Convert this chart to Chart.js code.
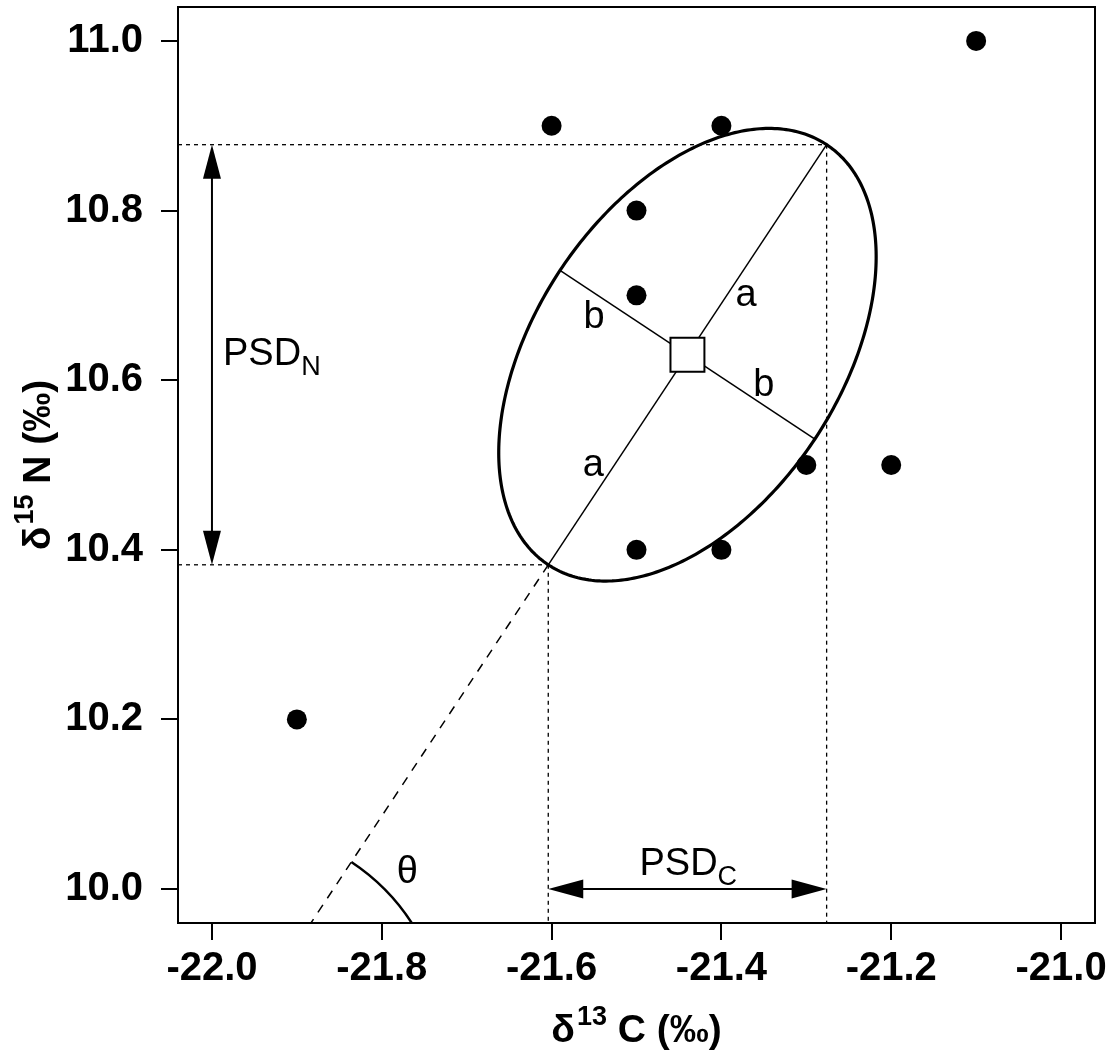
<!DOCTYPE html>
<html><head><meta charset="utf-8">
<script src="https://cdn.jsdelivr.net/npm/chart.js@4/dist/chart.umd.min.js"></script>
<style>html,body{margin:0;padding:0;background:#fff}canvas{display:block}</style>
</head><body>
<canvas id="c" width="1115" height="1053"></canvas>
<script>
// ---- data ----
const X_TICKS = [-22.0, -21.8, -21.6, -21.4, -21.2, -21.0];
const Y_TICKS = [10.0, 10.2, 10.4, 10.6, 10.8, 11.0];
const X_RANGE = [-22.04, -20.96];
const Y_RANGE = [9.96, 11.04];
const C13 = [-21.9, -21.6, -21.4, -21.1, -21.5, -21.5, -21.3, -21.2, -21.5, -21.4];
const N15 = [10.2, 10.9, 10.9, 11.0, 10.8, 10.7, 10.5, 10.5, 10.4, 10.4];
const CENTROID = [-21.44, 10.63];
const SEMI_A = 0.297;
const SEMI_B = 0.180;
const THETA_DEG = 56.5;
const ARC_CENTER_Y = 9.825;
const ARC_RADIUS = 0.248;
const PSD_N_X = -22.0;
const PSD_C_Y = 10.0;
const LABELS_A = [[-21.371, 10.687], [-21.551, 10.487]];
const LABELS_B = [[-21.550, 10.662], [-21.350, 10.581]];
const LABEL_THETA = [-21.770, 10.0074];
const LABEL_PSDN = [-21.987, 10.618];
const LABEL_PSDC = [-21.439, 10.017];

const FAM = "'Liberation Sans', Arial, Helvetica, sans-serif";

function seg(ctx, x1, y1, x2, y2) {
  ctx.beginPath(); ctx.moveTo(x1, y1); ctx.lineTo(x2, y2); ctx.stroke();
}
function head(ctx, tx, ty, dx, dy, len, half) {
  const L = Math.hypot(dx, dy); dx /= L; dy /= L;
  const bx = tx - dx * len, by = ty - dy * len;
  ctx.beginPath();
  ctx.moveTo(tx, ty);
  ctx.lineTo(bx - dy * half, by + dx * half);
  ctx.lineTo(bx + dy * half, by - dx * half);
  ctx.closePath(); ctx.fill();
}
function subText(ctx, main, sub, x, y, align, mainFont, subFont, dy) {
  ctx.font = mainFont; const w1 = ctx.measureText(main).width;
  ctx.font = subFont; const w2 = ctx.measureText(sub).width;
  let sx = x;
  if (align === 'center') sx = x - (w1 + w2) / 2;
  ctx.textAlign = 'left'; ctx.textBaseline = 'alphabetic';
  ctx.font = mainFont; ctx.fillText(main, sx, y);
  ctx.font = subFont; ctx.fillText(sub, sx + w1, y + dy);
}
function supTitle(ctx, a, sup, b, cx, y, mainFont, supFont, dy) {
  ctx.font = mainFont; const w1 = ctx.measureText(a).width;
  ctx.font = supFont; const w2 = ctx.measureText(sup).width;
  ctx.font = mainFont; const w3 = ctx.measureText(b).width;
  let sx = cx - (w1 + w2 + w3 + 2) / 2;
  ctx.textAlign = 'left'; ctx.textBaseline = 'alphabetic';
  ctx.font = mainFont; ctx.fillText(a, sx, y);
  ctx.font = supFont; ctx.fillText(sup, sx + w1 + 2, y - dy);
  ctx.font = mainFont; ctx.fillText(b, sx + w1 + w2 + 2, y);
}

const annot = {
  id: 'annot',
  beforeDatasetsDraw(chart) {
    const { ctx, chartArea: ca, scales: { x, y } } = chart;
    const px = v => x.getPixelForValue(v), py = v => y.getPixelForValue(v);
    const th = THETA_DEG * Math.PI / 180, ct = Math.cos(th), st = Math.sin(th);
    const [cx, cy] = CENTROID;
    const hiX = cx + SEMI_A * ct, hiY = cy + SEMI_A * st;
    const loX = cx - SEMI_A * ct, loY = cy - SEMI_A * st;
    const b1X = cx - SEMI_B * st, b1Y = cy + SEMI_B * ct;
    const b2X = cx + SEMI_B * st, b2Y = cy - SEMI_B * ct;
    ctx.save();
    ctx.beginPath(); ctx.rect(ca.left, ca.top, ca.right - ca.left, ca.bottom - ca.top); ctx.clip();
    ctx.strokeStyle = '#000'; ctx.fillStyle = '#000'; ctx.lineCap = 'butt';
    // dotted guides
    ctx.setLineDash([4, 4]); ctx.lineWidth = 1.3;
    seg(ctx, ca.left, py(hiY), px(hiX), py(hiY));
    seg(ctx, ca.left, py(loY), px(loX), py(loY));
    seg(ctx, px(loX), py(loY), px(loX), ca.bottom);
    seg(ctx, px(hiX), py(hiY), px(hiX), ca.bottom);
    // dashed extension of major axis
    const s = (loY - ARC_CENTER_Y) / st; const acx = loX - s * ct;
    ctx.setLineDash([9, 8]); ctx.lineWidth = 1.5;
    seg(ctx, px(loX), py(loY), px(acx), py(ARC_CENTER_Y));
    ctx.setLineDash([]);
    // theta arc
    const r = px(acx + ARC_RADIUS) - px(acx);
    const ang = Math.atan2(py(loY) - py(ARC_CENTER_Y), px(loX) - px(acx));
    ctx.lineWidth = 2.5;
    ctx.beginPath(); ctx.arc(px(acx), py(ARC_CENTER_Y), r, ang, 0); ctx.stroke();
    // ellipse
    ctx.lineWidth = 3.2;
    ctx.beginPath();
    for (let i = 0; i <= 360; i++) {
      const t = i * Math.PI / 180;
      const ex = cx + SEMI_A * Math.cos(t) * ct - SEMI_B * Math.sin(t) * st;
      const ey = cy + SEMI_A * Math.cos(t) * st + SEMI_B * Math.sin(t) * ct;
      if (i === 0) ctx.moveTo(px(ex), py(ey)); else ctx.lineTo(px(ex), py(ey));
    }
    ctx.closePath(); ctx.stroke();
    // axes a, b
    ctx.lineWidth = 1.5;
    seg(ctx, px(loX), py(loY), px(hiX), py(hiY));
    seg(ctx, px(b1X), py(b1Y), px(b2X), py(b2Y));
    // PSD arrows
    ctx.lineWidth = 2;
    const nx = px(PSD_N_X), ny1 = py(loY), ny2 = py(hiY);
    seg(ctx, nx, ny1 - 20, nx, ny2 + 20);
    head(ctx, nx, ny1, 0, 1, 34, 9);
    head(ctx, nx, ny2, 0, -1, 34, 9);
    const cyp = py(PSD_C_Y), cx1 = px(loX), cx2 = px(hiX);
    seg(ctx, cx1 + 20, cyp, cx2 - 20, cyp);
    head(ctx, cx1, cyp, -1, 0, 35, 9.5);
    head(ctx, cx2, cyp, 1, 0, 35, 9.5);
    // labels
    const reg = '38px ' + FAM, sm = '27px ' + FAM;
    ctx.textAlign = 'center'; ctx.textBaseline = 'alphabetic'; ctx.font = reg;
    LABELS_A.forEach(p => ctx.fillText('a', px(p[0]), py(p[1])));
    LABELS_B.forEach(p => ctx.fillText('b', px(p[0]), py(p[1])));
    ctx.fillText('\u03B8', px(LABEL_THETA[0]), py(LABEL_THETA[1]));
    subText(ctx, 'PSD', 'N', px(LABEL_PSDN[0]), py(LABEL_PSDN[1]), 'left', reg, sm, 10);
    subText(ctx, 'PSD', 'C', px(LABEL_PSDC[0]), py(LABEL_PSDC[1]), 'center', reg, sm, 10);
    ctx.restore();
  },
  afterDraw(chart) {
    const { ctx, chartArea: ca } = chart;
    ctx.save();
    ctx.strokeStyle = '#000'; ctx.lineWidth = 2;
    ctx.strokeRect(ca.left, ca.top, ca.right - ca.left, ca.bottom - ca.top);
    ctx.fillStyle = '#000';
    const big = 'bold 39px ' + FAM, sup = 'bold 27px ' + FAM;
    supTitle(ctx, '\u03B4', '13', ' C (\u2030)', (ca.left + ca.right) / 2, 1042, big, sup, 17);
    ctx.translate(50, (ca.top + ca.bottom) / 2);
    ctx.rotate(-Math.PI / 2);
    supTitle(ctx, '\u03B4', '15', ' N (\u2030)', 0, 0, big, sup, 17);
    ctx.restore();
  }
};

const tickFont = { family: FAM, size: 40, weight: 'bold' };
const zeroPad = s => { s.paddingLeft = 0; s.paddingRight = 0; s.paddingTop = 0; s.paddingBottom = 0; };
new Chart(document.getElementById('c'), {
  type: 'scatter',
  data: {
    datasets: [
      {
        data: C13.map((v, i) => ({ x: v, y: N15[i] })),
        pointRadius: 10, pointHoverRadius: 10,
        backgroundColor: '#000', borderColor: '#000', borderWidth: 0
      },
      {
        data: [{ x: CENTROID[0], y: CENTROID[1] }],
        pointStyle: 'rect', pointRadius: 24, pointHoverRadius: 24,
        backgroundColor: '#fff', borderColor: '#000', borderWidth: 2
      }
    ]
  },
  options: {
    responsive: false, animation: false, devicePixelRatio: 1,
    layout: { autoPadding: false, padding: { top: 7, right: 20, left: 0, bottom: 0 } },
    plugins: { legend: { display: false }, tooltip: { enabled: false } },
    scales: {
      x: {
        type: 'linear', min: X_RANGE[0], max: X_RANGE[1],
        afterBuildTicks: s => { s.ticks = X_TICKS.map(v => ({ value: v })); },
        afterFit: s => { s.height = 130; zeroPad(s); },
        ticks: { callback: v => Number(v).toFixed(1), font: tickFont, color: '#000', padding: 5, maxRotation: 0, autoSkip: false },
        grid: { drawOnChartArea: false, drawTicks: true, tickLength: 17, color: '#000', lineWidth: 2 },
        border: { display: true, color: '#000', width: 2 }
      },
      y: {
        type: 'linear', min: Y_RANGE[0], max: Y_RANGE[1],
        afterBuildTicks: s => { s.ticks = Y_TICKS.map(v => ({ value: v })); },
        afterFit: s => { s.width = 178; zeroPad(s); },
        ticks: { callback: v => Number(v).toFixed(1), font: tickFont, color: '#000', padding: 18, autoSkip: false },
        grid: { drawOnChartArea: false, drawTicks: true, tickLength: 17, color: '#000', lineWidth: 2 },
        border: { display: true, color: '#000', width: 2 }
      }
    }
  },
  plugins: [annot]
});
</script>
</body></html>
